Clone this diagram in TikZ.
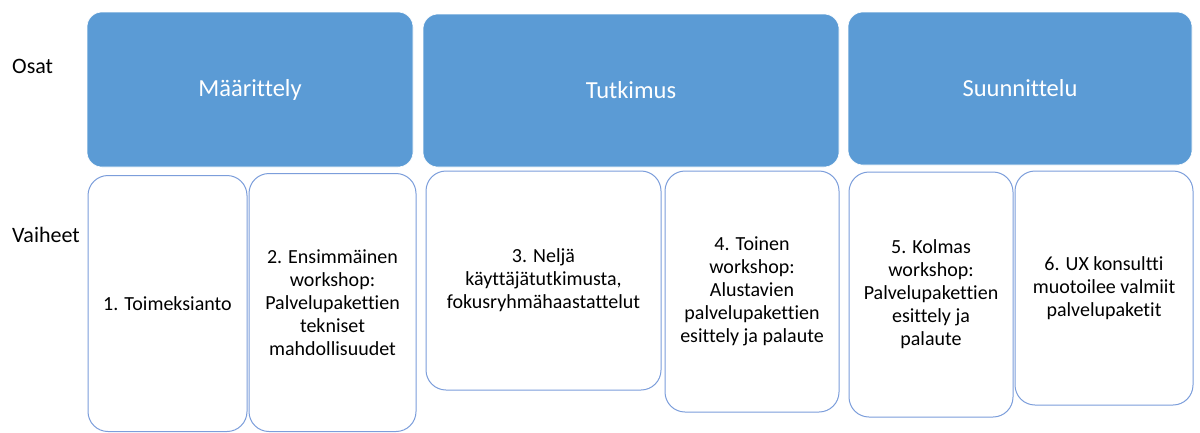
\documentclass[tikz,border=0pt]{standalone}
\usepackage{fontspec}
\setmainfont{Carlito}[Ligatures={NoCommon}]
\definecolor{partblue}{HTML}{5B9BD5}
\definecolor{phaseline}{HTML}{7C9EDB}
\begin{document}
\begin{tikzpicture}[x=1pt,y=-1pt,
  partbox/.style={rectangle, rounded corners=15pt, fill=partblue, draw=white, line width=0.6pt,
    inner sep=0pt, text=white, font=\fontsize{24.5}{28}\selectfont},
  phasebox/.style={rectangle, rounded corners=20pt, fill=white, draw=phaseline, line width=1pt,
    inner sep=0pt, align=center, font=\fontsize{20}{23}\selectfont},
  rowlabel/.style={anchor=base west, inner sep=0pt, font=\fontsize{22}{26}\selectfont}]
\useasboundingbox (0,0) rectangle (1200,432);
\fill[white] (0,0) rectangle (1200,432);

% parts
\node[partbox, minimum width=326pt, minimum height=155pt] (p1) at (250,89.5) {Määrittely};
\node[partbox, minimum width=416pt, minimum height=153pt] (p2) at (631,90.5) {Tutkimus};
\node[partbox, minimum width=344pt, minimum height=153pt] (p3) at (1020,88.5) {Suunnittelu};

% row labels
\node[rowlabel] (osat) at (12,73) {Osat};
\node[rowlabel] (vaiheet) at (12,242) {Vaiheet};

% phases
\node[phasebox, minimum width=159pt, minimum height=256pt] (v1) at (167.5,303.5) {1. Toimeksianto};
\node[phasebox, minimum width=167pt, minimum height=258pt] (v2) at (332.5,302.5)
  {2. Ensimmäinen\\workshop:\\Palvelupakettien\\tekniset\\mahdollisuudet};
\node[phasebox, minimum width=235pt, minimum height=219pt] (v3) at (543.5,280.5)
  {3. Neljä\\käyttäjätutkimusta,\\fokusryhmähaastattelut};
\node[phasebox, minimum width=174pt, minimum height=241pt] (v4) at (752,291.5)
  {4. Toinen\\workshop:\\Alustavien\\palvelupakettien\\esittely ja palaute};
\node[phasebox, minimum width=164pt, minimum height=245pt] (v5) at (931,294.5)
  {5. Kolmas\\workshop:\\Palvelupakettien\\esittely ja\\palaute};
\node[phasebox, minimum width=178pt, minimum height=234pt] (v6) at (1104,288)
  {6. UX konsultti\\muotoilee valmiit\\palvelupaketit};
\end{tikzpicture}
\end{document}
